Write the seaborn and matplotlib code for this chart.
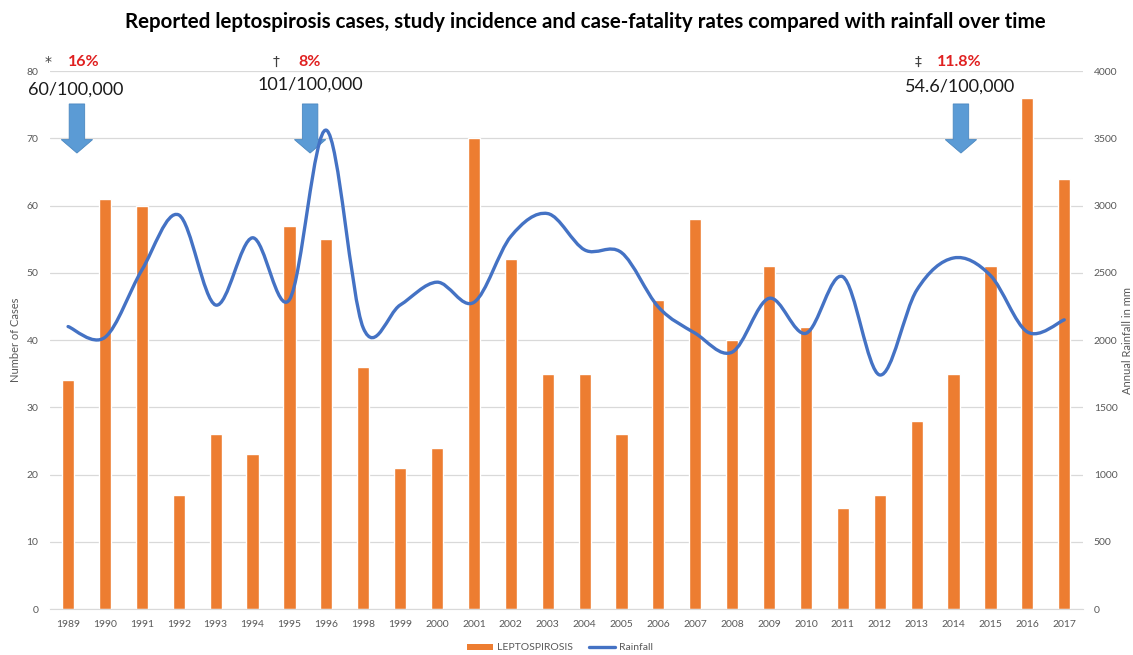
import numpy as np
import pandas as pd
import matplotlib
matplotlib.use("Agg")
import matplotlib.pyplot as plt
import seaborn as sns
from matplotlib.path import Path
from matplotlib.patches import PathPatch, Patch, FancyArrow
from matplotlib.lines import Line2D

# ---- data ----
years = ["1989", "1990", "1991", "1992", "1993", "1994", "1995", "1996", "1998", "1999",
         "2000", "2001", "2002", "2003", "2004", "2005", "2006", "2007", "2008", "2009",
         "2010", "2011", "2012", "2013", "2014", "2015", "2016", "2017"]
cases = [34, 61, 60, 17, 26, 23, 57, 55, 36, 21,
         24, 70, 52, 35, 35, 26, 46, 58, 40, 51,
         42, 15, 17, 28, 35, 51, 76, 64]
rainfall = [2100, 2020, 2520, 2930, 2260, 2760, 2300, 3560, 2090, 2260,
            2430, 2280, 2770, 2940, 2670, 2650, 2245, 2050, 1910, 2310,
            2050, 2470, 1740, 2370, 2610, 2480, 2060, 2150]
annot_marks = ["*", "\u2020", "\u2021"]
annot_cfr = ["16%", "8%", "11.8%"]
annot_inc = ["60/100,000", "101/100,000", "54.6/100,000"]

ORANGE = "#ED7D31"
BLUE = "#4472C4"
ARROW = "#5B9BD5"
GRAY = "#595959"

sns.set_style("white")
plt.rcParams["font.family"] = ["Lato", "DejaVu Sans"]

fig = plt.figure(figsize=(11.33, 6.55), dpi=100)
ax = fig.add_axes([0.0438, 0.0702, 0.9118, 0.8214])

df = pd.DataFrame({"year": years, "cases": cases})
sns.barplot(data=df, x="year", y="cases", color=ORANGE, saturation=1, width=0.33, ax=ax)
ax.set_ylim(0, 80)
ax.set_xlim(-0.5, len(years) - 0.5)
ax.set_yticks(np.arange(0, 81, 10))
ax.yaxis.grid(True, color="#D9D9D9", linewidth=0.9)
ax.set_axisbelow(True)
for s in ["top", "right", "left"]:
    ax.spines[s].set_visible(False)
ax.spines["bottom"].set_color("#D9D9D9")
ax.tick_params(axis="both", length=0, colors=GRAY, labelsize=7.5)
ax.tick_params(axis="x", pad=8)
ax.tick_params(axis="y", pad=8)
ax.set_xlabel("")
ax.set_ylabel("Number of Cases", color=GRAY, fontsize=8, labelpad=4)

ax2 = ax.twinx()
ax2.set_ylim(0, 4000)
ax2.set_yticks(np.arange(0, 4001, 500))
for s in ax2.spines.values():
    s.set_visible(False)
ax2.tick_params(axis="y", length=0, colors=GRAY, labelsize=7.5, pad=8)
ax2.set_ylabel("Annual Rainfall in mm", color=GRAY, fontsize=8, labelpad=3)

# smoothed line (Catmull-Rom as cubic Bezier path in data coordinates)
xs = np.arange(len(years), dtype=float)
pts = np.column_stack([xs, np.array(rainfall, dtype=float)])
ext = np.vstack([pts[0], pts, pts[-1]])
verts = [tuple(pts[0])]
codes = [Path.MOVETO]
for i in range(len(pts) - 1):
    p0, p1, p2, p3 = ext[i], ext[i + 1], ext[i + 2], ext[i + 3]
    c1 = p1 + (p2 - p0) / 6.0
    c2 = p2 - (p3 - p1) / 6.0
    verts += [tuple(c1), tuple(c2), tuple(p2)]
    codes += [Path.CURVE4, Path.CURVE4, Path.CURVE4]
ax2.add_patch(PathPatch(Path(verts, codes), facecolor="none", edgecolor=BLUE,
                        linewidth=2.4, capstyle="round", joinstyle="round"))

# arrows (in left-axis units)
arrow_x = [0.24, 6.56, 24.2]
for axx in arrow_x:
    ax.add_patch(FancyArrow(axx, 75.1, 0, -7.3, width=0.42, head_width=0.85,
                            head_length=2.0, length_includes_head=True,
                            facecolor=ARROW, edgecolor="#4A87C0", linewidth=0.6,
                            clip_on=False, zorder=5))

# annotation texts (figure pixel positions)
W, H = 1133, 655
mark_pos = [(48, 62), (276, 62), (918, 62)]
cfr_pos = [(68, 62), (298, 62), (937, 62)]
inc_pos = [(76, 90), (310, 85), (960, 87)]
for m, c, inc, mp, cp, ip in zip(annot_marks, annot_cfr, annot_inc, mark_pos, cfr_pos, inc_pos):
    fig.text(mp[0] / W, 1 - mp[1] / H, m, ha="center", va="center", fontsize=10,
             color="#404040", family=["DejaVu Sans"])
    fig.text(cp[0] / W, 1 - cp[1] / H, c, ha="left", va="center", fontsize=11.5,
             color="#E02020", fontweight="bold")
    fig.text(ip[0] / W, 1 - ip[1] / H, inc, ha="center", va="center", fontsize=13,
             color="#1A1A1A")

fig.text(585 / W, 1 - 22 / H,
         "Reported leptospirosis cases, study incidence and case-fatality rates compared with rainfall over time",
         ha="center", va="center", fontsize=14.8, fontweight="bold", color="black")

handles = [Patch(facecolor=ORANGE, edgecolor="none"),
           Line2D([0], [0], color=BLUE, linewidth=2.4)]
fig.legend(handles, ["LEPTOSPIROSIS", "Rainfall"], loc="center", ncol=2,
           bbox_to_anchor=(560 / W, 1 - 648 / H), frameon=False, fontsize=7.5,
           labelcolor=GRAY, handlelength=2.5, handleheight=0.6, columnspacing=1.5,
           handletextpad=0.4)

fig.savefig("out.png", dpi=100, facecolor="white")
